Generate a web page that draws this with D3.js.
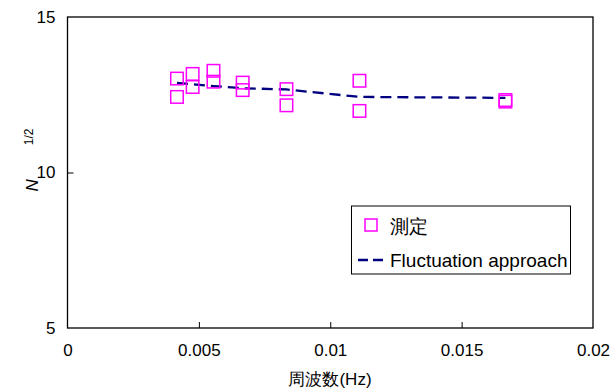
<!DOCTYPE html>
<html><head><meta charset="utf-8">
<script src="https://cdn.jsdelivr.net/npm/d3@7"></script>
<style>body{margin:0;background:#fff}svg{display:block}text{font-family:"Liberation Sans",Arial,sans-serif;fill:#000}</style>
</head><body><svg id="c" width="610" height="392"></svg>
<script>
const freqs = [1/240,1/240,1/210,1/210,1/180,1/180,1/150,1/150,1/120,1/120,1/90,1/90,1/60,1/60];
const sqrtN = [13.02,12.43,13.17,12.75,13.27,12.92,12.89,12.65,12.68,12.16,12.95,11.98,12.33,12.28];
const fitFreq = [1/240,1/210,1/180,1/150,1/120,1/90,1/60];
const fitVal = [12.88,12.84,12.78,12.71,12.67,12.43,12.40];
const xTicks = [0,0.005,0.01,0.015,0.02];
const xTickLabels = ["0","0.005","0.01","0.015","0.02"];
const yTicks = [5,10,15];
const legendLabels = ["測定","Fluctuation approach"];

const svg = d3.select("#c");
const L=67.5,R=593,T=17,B=328;
const x = d3.scaleLinear().domain([0,0.02]).range([L,R]);
const y = d3.scaleLinear().domain([5,15]).range([B,T]);

// frame
svg.append("rect").attr("x",L).attr("y",T).attr("width",R-L).attr("height",B-T)
  .attr("fill","none").attr("stroke","#000").attr("stroke-width",1.3);

// x axis
const xa = svg.append("g").attr("transform",`translate(0,${B})`)
  .call(d3.axisBottom(x).tickValues(xTicks).tickSizeInner(-6).tickSizeOuter(0)
    .tickFormat((d,i)=>xTickLabels[i]).tickPadding(16));
xa.select(".domain").remove();
xa.selectAll("line").attr("stroke","#000").attr("stroke-width",1)
  .filter(d=>d===0||d===0.02).remove();
xa.selectAll("text").attr("font-size",17).attr("font-family","Liberation Sans, Arial, sans-serif");

// y axis
const ya = svg.append("g").attr("transform",`translate(${L},0)`)
  .call(d3.axisLeft(y).tickValues(yTicks).tickSizeInner(-6).tickSizeOuter(0).tickPadding(12));
ya.select(".domain").remove();
ya.selectAll("line").attr("stroke","#000").filter(d=>d!==10).remove();
ya.selectAll("text").attr("font-size",17).attr("font-family","Liberation Sans, Arial, sans-serif");

// axis titles
svg.append("text").attr("x",330).attr("y",385).attr("text-anchor","middle")
  .attr("font-size",17).text("周波数(Hz)");
const yl = svg.append("text").attr("transform","translate(38,160) rotate(-90)")
  .attr("text-anchor","middle").attr("font-size",17);
yl.append("tspan").attr("font-style","italic").text("N");
yl.append("tspan").attr("dx",34).attr("dy",-5).attr("font-size",12).text("1/2");

// fit line
const line = d3.line().x(d=>x(d[0])).y(d=>y(d[1]));
svg.append("path").datum(fitFreq.map((f,i)=>[f,fitVal[i]])).attr("d",line)
  .attr("fill","none").attr("stroke","#000080").attr("stroke-width",2.3)
  .attr("stroke-dasharray","11,6");

// markers
const s=12.5;
svg.append("g").selectAll("rect").data(freqs.map((f,i)=>[f,sqrtN[i]])).join("rect")
  .attr("x",d=>x(d[0])-s/2).attr("y",d=>y(d[1])-s/2).attr("width",s).attr("height",s)
  .attr("fill","none").attr("stroke","#ff00ff").attr("stroke-width",1.5);

// legend
const lg = svg.append("g");
lg.append("rect").attr("x",351.5).attr("y",206).attr("width",219).attr("height",68)
  .attr("fill","#fff").attr("stroke","#000").attr("stroke-width",1);
lg.append("rect").attr("x",365).attr("y",219).attr("width",12).attr("height",12)
  .attr("fill","none").attr("stroke","#ff00ff").attr("stroke-width",1.5);
lg.append("text").attr("x",390).attr("y",233).attr("font-size",19).text(legendLabels[0]);
lg.append("line").attr("x1",358).attr("x2",383).attr("y1",260).attr("y2",260)
  .attr("stroke","#000080").attr("stroke-width",2.3).attr("stroke-dasharray","10,5");
lg.append("text").attr("x",390).attr("y",267).attr("font-size",19).text(legendLabels[1]);
</script></body></html>
